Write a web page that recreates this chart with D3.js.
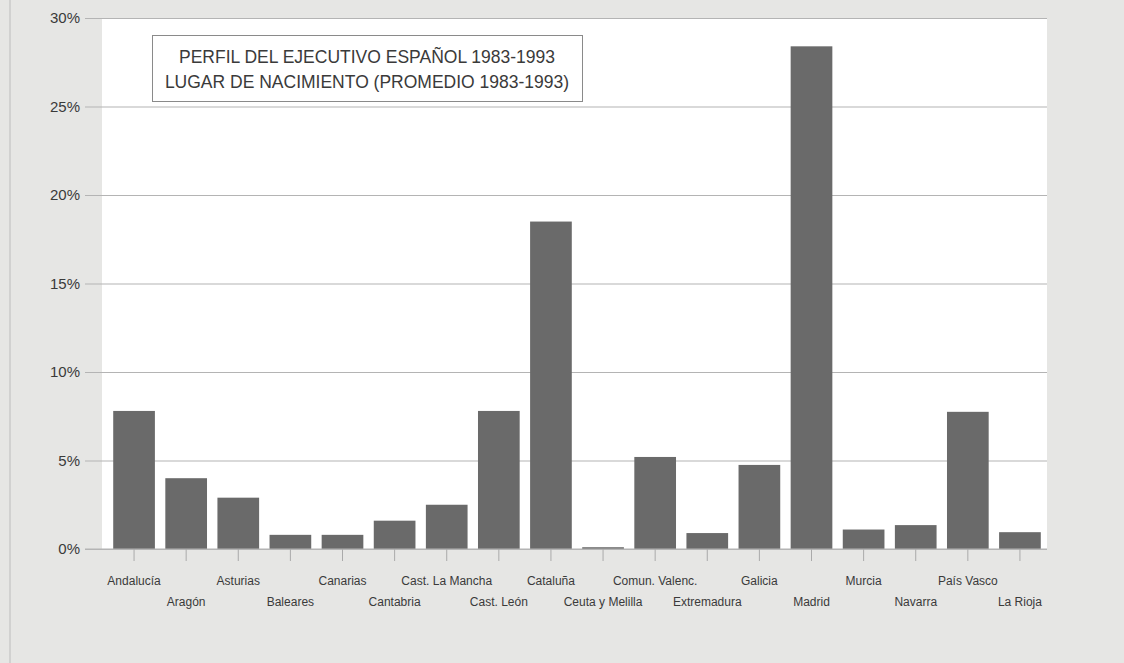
<!DOCTYPE html>
<html>
<head>
<meta charset="utf-8">
<script src="https://cdn.jsdelivr.net/npm/d3@7"></script>
<style>
  html, body { margin: 0; padding: 0; background: #e6e6e4; }
  svg { display: block; }
</style>
</head>
<body>
<svg id="chart" width="1124" height="663"></svg>
<script>
const categories = ["Andalucía", "Aragón", "Asturias", "Baleares", "Canarias", "Cantabria",
  "Cast. La Mancha", "Cast. León", "Cataluña", "Ceuta y Melilla", "Comun. Valenc.",
  "Extremadura", "Galicia", "Madrid", "Murcia", "Navarra", "País Vasco", "La Rioja"];
const values = [7.8, 4.0, 2.9, 0.8, 0.8, 1.6, 2.5, 7.8, 18.5, 0.1, 5.2, 0.9, 4.75, 28.4, 1.1, 1.35, 7.75, 0.95];
const yTicks = [0, 5, 10, 15, 20, 25, 30];
const titleLines = ["PERFIL DEL EJECUTIVO ESPAÑOL 1983-1993", "LUGAR DE NACIMIENTO (PROMEDIO 1983-1993)"];

const svg = d3.select("#chart");
const font = "'Liberation Sans Narrow', 'Arial Narrow', 'Liberation Sans', sans-serif";
const plot = { left: 102, right: 1047, top: 18, bottom: 549, gridStart: 85 };

const x = d3.scaleBand().domain(categories).range([108, 1046]).paddingInner(0.2).paddingOuter(0.1);
const y = d3.scaleLinear().domain([0, 30]).range([plot.bottom, plot.top]);

// frame line at left
svg.append("line").attr("x1", 10).attr("x2", 10).attr("y1", 0).attr("y2", 663)
  .attr("stroke", "#bcbcbc").attr("stroke-width", 1);

// white plot area
svg.append("rect").attr("x", plot.left).attr("y", plot.top)
  .attr("width", plot.right - plot.left).attr("height", plot.bottom - plot.top)
  .attr("fill", "#ffffff");

// y axis with gridlines
const yAxis = d3.axisLeft(y).tickValues(yTicks).tickFormat(d => d + "%")
  .tickSize(plot.right - plot.gridStart).tickPadding(5);
const gy = svg.append("g").attr("transform", `translate(${plot.right},0)`).call(yAxis);
gy.select(".domain").remove();
gy.selectAll(".tick line").attr("stroke", "#b4b4b4").attr("stroke-width", 1.2);
gy.selectAll(".tick text").attr("fill", "#3a3a3a").style("font-family", font).style("font-size", "15px");

// bars
svg.append("g").selectAll("rect").data(categories).join("rect")
  .attr("x", d => x(d))
  .attr("width", x.bandwidth())
  .attr("y", (d, i) => y(values[i]))
  .attr("height", (d, i) => y(0) - y(values[i]))
  .attr("fill", "#6a6a6a");

// x axis with alternating labels
const xAxis = d3.axisBottom(x).tickSize(12).tickPadding(0).tickFormat("");
const gx = svg.append("g").attr("transform", `translate(0,${plot.bottom})`).call(xAxis);
gx.select(".domain").attr("stroke", "#b4b4b4").attr("stroke-width", 1.2).attr("d", `M${plot.gridStart},0H${plot.right}`);
gx.selectAll(".tick line").attr("stroke", "#aaaaaa");

svg.append("g").selectAll("text").data(categories).join("text")
  .attr("x", d => x(d) + x.bandwidth() / 2)
  .attr("y", (d, i) => i % 2 === 0 ? 585 : 606)
  .attr("text-anchor", "middle")
  .attr("fill", "#3a3a3a")
  .style("font-family", font).style("font-size", "12px")
  .text(d => d);

// title box
svg.append("rect").attr("x", 152.5).attr("y", 35.5).attr("width", 430).attr("height", 66)
  .attr("fill", "#ffffff").attr("stroke", "#8a8a8a").attr("stroke-width", 1);
svg.append("g").selectAll("text").data(titleLines).join("text")
  .attr("x", 367).attr("y", (d, i) => 63 + i * 25)
  .attr("text-anchor", "middle").attr("fill", "#3a3a3a")
  .style("font-family", font).style("font-size", "17.5px")
  .text(d => d);
</script>
</body>
</html>
